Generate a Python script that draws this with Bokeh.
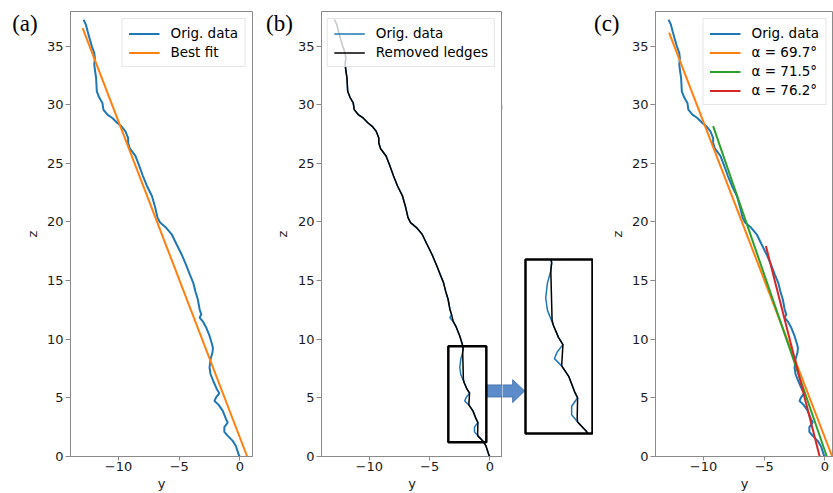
import math
from bokeh.plotting import figure
from bokeh.models import Range1d, FixedTicker, Label, BoxAnnotation
from bokeh.layouts import row
from bokeh.embed import file_html
from bokeh.resources import INLINE

# ---------------- data ----------------
orig_z = [37.25, 36.83, 36.26, 35.55, 34.98, 34.41, 33.98, 33.42, 32.85, 32.28, 31.70, 31.14,
          30.63, 30.15, 29.58, 29.16, 28.87, 28.44, 28.16, 27.73, 27.16, 26.74, 26.25, 25.63,
          24.92, 23.92, 23.07, 22.22, 21.23, 20.37, 19.95, 19.52, 18.95, 18.10, 17.25, 16.25,
          15.54, 14.83, 14.05, 13.41, 12.56, 12.10, 11.85, 11.50, 11.05, 10.28, 9.60, 9.25,
          8.87, 8.29, 7.59, 7.02, 6.31, 5.74, 5.40, 5.05, 4.74, 4.40, 3.89, 3.18, 2.90, 2.50,
          2.10, 1.76, 1.33, 0.90, 0.05, 0.00]
orig_y = [-12.88, -12.69, -12.55, -12.36, -12.20, -12.00, -11.95, -12.00, -11.93, -11.85, -11.82, -11.79,
          -11.60, -11.33, -11.25, -10.92, -10.51, -10.10, -9.76, -9.43, -9.21, -9.21, -9.06, -8.61,
          -8.34, -7.99, -7.66, -7.25, -6.98, -6.79, -6.58, -6.09, -5.62, -5.22, -4.81, -4.40,
          -4.13, -3.85, -3.66, -3.47, -3.32, -3.18, -3.32, -3.04, -2.80, -2.50, -2.30, -2.22,
          -2.26, -2.42, -2.50, -2.42, -2.14, -1.90, -1.69, -1.96, -2.09, -1.75, -1.41, -1.14, -1.00, -1.28,
          -1.28, -1.00, -0.59, -0.33, -0.06, 0.00]

ledge_z = [37.25, 36.83, 36.26, 35.55, 34.98, 34.41, 33.98, 33.42, 32.85, 32.28, 31.70, 31.14,
           30.63, 30.15, 29.58, 29.16, 28.87, 28.44, 28.16, 27.73, 27.16, 26.74, 26.25, 25.63,
           24.92, 23.92, 23.07, 22.22, 21.23, 20.37, 19.95, 19.52, 18.95, 18.10, 17.25, 16.25,
           15.54, 14.83, 14.05, 13.41, 12.56, 12.10, 11.50, 11.05, 10.28, 9.60, 9.25, 8.87,
           6.55, 6.31, 5.74, 5.40, 4.40, 3.89, 3.18, 2.90, 1.95, 1.76, 1.33, 0.90, 0.05, 0.00]
ledge_y = [-12.88, -12.69, -12.55, -12.36, -12.20, -12.00, -11.95, -12.00, -11.93, -11.85, -11.82, -11.79,
           -11.60, -11.33, -11.25, -10.92, -10.51, -10.10, -9.76, -9.43, -9.21, -9.21, -9.06, -8.61,
           -8.34, -7.99, -7.66, -7.25, -6.98, -6.79, -6.58, -6.09, -5.62, -5.22, -4.81, -4.40,
           -4.13, -3.85, -3.66, -3.47, -3.32, -3.18, -3.04, -2.80, -2.50, -2.30, -2.22, -2.26,
           -2.20, -2.14, -1.90, -1.69, -1.75, -1.41, -1.14, -1.00, -1.02, -1.00, -0.59, -0.33, -0.06, 0.00]

fit_a_y = [-12.96, 0.60]
fit_a_z = [36.54, 0.00]
fit_697_y = [-12.84, 0.60]
fit_697_z = [36.15, 0.00]
fit_715_y = [-9.21, 0.16]
fit_715_z = [28.18, 0.00]
fit_762_y = [-4.86, -0.43]
fit_762_z = [17.95, 0.00]

zoom_y = [-3.45, -0.30]   # zoomed window (y)
zoom_z = [1.22, 9.40]     # zoomed window (z)

y_ticks = [-10, -5, 0]
y_tick_labels = ["\u221210", "\u22125", "0"]
z_ticks = [0, 5, 10, 15, 20, 25, 30, 35]

labels_a = ["Orig. data", "Best fit"]
labels_b = ["Orig. data", "Removed ledges"]
labels_c = ["Orig. data", "\u03b1 = 69.7\u00b0", "\u03b1 = 71.5\u00b0", "\u03b1 = 76.2\u00b0"]
x_axis_label = "y"
z_axis_label = "z"

# arrow shape (decoration, in panel-b data units)
arrow_xs = [-0.30, 1.87, 1.87, 2.85, 1.87, 1.87, -0.30]
arrow_zs = [5.08, 5.08, 4.60, 5.59, 6.55, 6.10, 6.10]

# ---------------- style / layout ----------------
BLUE, ORANGE, GREEN, RED = "#1f77b4", "#ff7f0e", "#2ca02c", "#d62728"
AX = "#8a8a8a"
TXT = "#1a1a1a"
H = 493
TOP, BOTTOM = 11, 37
FRAME_H = H - TOP - BOTTOM
X_AB = (-13.96, 1.04)
X_C = (-13.96, 0.71)
Z_LIM = (0, 37.95)
FW = 184                      # frame width of panels a, b
PX_PER_Y = FW / (X_AB[1] - X_AB[0])

# inset helper figure: frame width and zoom box pixel position inside its frame
FW_I = 91
BOX_L, BOX_R, BOX_T, BOX_B = 23, 90, 248, 422


def blank(width, xr=None, yr=None):
    xr = xr or Range1d(0, width)
    yr = yr or Range1d(0, FRAME_H)
    p = figure(width=width, height=H, x_range=xr, y_range=yr,
               min_border_left=0, min_border_right=0, min_border_top=TOP, min_border_bottom=BOTTOM,
               x_axis_location=None, y_axis_location=None,
               output_backend="svg", toolbar_location=None)
    p.grid.visible = False
    p.outline_line_color = None
    return p


def tag_strip(width, tag, tag_x, z_x):
    """Strip left of a panel holding the panel tag and the vertical axis title."""
    t = blank(width)
    t.add_layout(Label(x=tag_x, y=FRAME_H - 12, text=tag, text_font="Liberation Serif",
                       text_font_size="23px", text_baseline="middle", text_align="left",
                       text_color="black"))
    t.add_layout(Label(x=z_x, y=FRAME_H / 2, text=z_axis_label, angle=math.pi / 2,
                       text_font="DejaVu Sans", text_font_size="13px", text_baseline="middle",
                       text_align="center", text_color=TXT))
    return t


def make_panel(width, border_left, frame_w, xlim):
    p = figure(width=width, height=H, x_range=Range1d(*xlim), y_range=Range1d(*Z_LIM),
               min_border_left=border_left, min_border_right=width - border_left - frame_w,
               min_border_top=TOP, min_border_bottom=BOTTOM,
               output_backend="svg", toolbar_location=None)
    p.grid.visible = False
    p.outline_line_color = AX
    p.outline_line_alpha = 1
    p.xaxis.ticker = FixedTicker(ticks=y_ticks)
    p.xaxis.major_label_overrides = {t: l for t, l in zip(y_ticks, y_tick_labels)}
    p.yaxis.ticker = FixedTicker(ticks=z_ticks)
    p.xaxis.axis_label = x_axis_label
    for ax in p.axis:
        ax.axis_line_color = AX
        ax.major_tick_line_color = AX
        ax.minor_tick_line_color = None
        ax.major_tick_in = 0
        ax.major_label_text_font = "DejaVu Sans"
        ax.major_label_text_font_size = "13px"
        ax.major_label_text_color = TXT
        ax.axis_label_text_font = "DejaVu Sans"
        ax.axis_label_text_font_size = "13px"
        ax.axis_label_text_font_style = "normal"
        ax.axis_label_text_color = TXT
    p.xaxis.major_tick_out = 4
    p.xaxis.major_label_standoff = 1
    p.xaxis.axis_label_standoff = 2
    p.yaxis.major_tick_out = 5
    p.yaxis.major_label_standoff = 2
    return p


def style_legend(p):
    lg = p.legend[0]
    lg.location = "top_right"
    lg.margin = 7
    lg.padding = 6
    lg.spacing = 3
    lg.glyph_height = 15
    lg.label_height = 15
    lg.glyph_width = 31
    lg.label_standoff = 11
    lg.border_line_color = "#cccccc"
    lg.border_line_width = 1
    lg.background_fill_color = "white"
    lg.background_fill_alpha = 0.8
    lg.label_text_font = "DejaVu Sans"
    lg.label_text_font_size = "13.5px"
    lg.label_text_color = "black"


ARROW_STYLE = dict(fill_color="#5b8bc9", fill_alpha=1, line_color="#4a77ad", line_alpha=1, line_width=1)

# ---------------- panel (a) ----------------
ta = tag_strip(43, "(a)", 11.7, 31.7)
pa = make_panel(219, 25, FW, X_AB)
pa.line(orig_y, orig_z, color=BLUE, line_width=2, legend_label=labels_a[0])
pa.line(fit_a_y, fit_a_z, color=ORANGE, line_width=2, legend_label=labels_a[1])
style_legend(pa)

# ---------------- panel (b) ----------------
tb = tag_strip(32, "(b)", 3.5, 19.7)
pb = make_panel(208, 24, FW, X_AB)
pb.line(orig_y, orig_z, color=BLUE, line_width=1.5, legend_label=labels_b[0])
pb.line(ledge_y, ledge_z, color="black", line_width=1.5, legend_label=labels_b[1])
style_legend(pb)
pb.patch(arrow_xs, arrow_zs, **ARROW_STYLE)
pb.add_layout(BoxAnnotation(left=zoom_y[0], right=zoom_y[1], bottom=zoom_z[0], top=zoom_z[1],
                            fill_color=None, fill_alpha=0, line_color="black",
                            line_alpha=1, line_width=2.5))

# ---------------- inset (zoom of the box in panel b) ----------------
sy = (zoom_y[1] - zoom_y[0]) / (BOX_R - BOX_L)
sz = (zoom_z[1] - zoom_z[0]) / (BOX_B - BOX_T)
pi = blank(FW_I,
           Range1d(zoom_y[0] - BOX_L * sy, zoom_y[1] + (FW_I - BOX_R) * sy),
           Range1d(zoom_z[0] - (FRAME_H - BOX_B) * sz, zoom_z[1] + BOX_T * sz))
pi.extra_x_ranges = {"main_y": Range1d(X_AB[1], X_AB[1] + FW_I / PX_PER_Y)}
pi.extra_y_ranges = {"main_z": Range1d(*Z_LIM)}
pi.line(orig_y, orig_z, color=BLUE, line_width=1.5)
pi.line(ledge_y, ledge_z, color="black", line_width=1.5)
BIG = 1e4
pi.quad(left=[-BIG, -BIG, -BIG], right=[BIG, BIG, zoom_y[0]],
        bottom=[zoom_z[1], -BIG, -BIG], top=[BIG, zoom_z[0], BIG],
        fill_color="white", fill_alpha=1, line_color=None)
pi.patch(arrow_xs, arrow_zs, x_range_name="main_y", y_range_name="main_z", **ARROW_STYLE)
pi.add_layout(BoxAnnotation(left=zoom_y[0], right=zoom_y[1], bottom=zoom_z[0], top=zoom_z[1],
                            fill_color=None, fill_alpha=0, line_color="black",
                            line_alpha=1, line_width=2.5))

# ---------------- panel (c) ----------------
tc = tag_strip(35, "(c)", 0.5, 24.0)
pc = make_panel(205, 25, 180, X_C)
pc.line(orig_y, orig_z, color=BLUE, line_width=2, legend_label=labels_c[0])
pc.line(fit_697_y, fit_697_z, color=ORANGE, line_width=2, legend_label=labels_c[1])
pc.line(fit_715_y, fit_715_z, color=GREEN, line_width=2, legend_label=labels_c[2])
pc.line(fit_762_y, fit_762_z, color=RED, line_width=2, legend_label=labels_c[3])
style_legend(pc)

layout = row(ta, pa, tb, pb, pi, tc, pc, spacing=0)
open("out.html", "w").write(file_html(layout, INLINE))
